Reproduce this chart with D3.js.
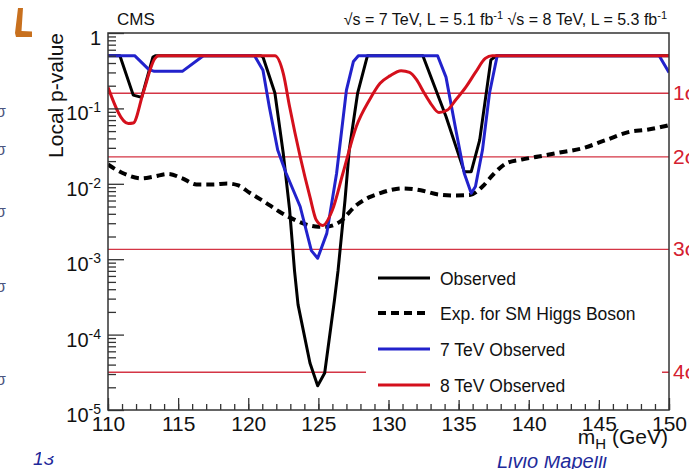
<!DOCTYPE html>
<html>
<head>
<meta charset="utf-8">
<script src="https://cdn.jsdelivr.net/npm/d3@7"></script>
<style>
  body { margin: 0; background: #fff; }
  svg { display: block; font-family: "Liberation Sans", Arial, Helvetica, sans-serif; }
</style>
</head>
<body>
<svg id="chart" width="689" height="469"></svg>
<script>
// Combined observed local p-value vs Higgs mass
const massObs = [110, 110.85, 111.8, 112.4, 113.2, 113.4, 120.9, 121.05, 121.9, 122.5, 122.95, 123.3, 123.55, 124.4, 124.95, 125.45, 126.15, 126.4, 126.9, 127.2, 127.8, 128.5, 132.45, 134.1, 135.4, 135.9, 136.5, 137.3, 137.7, 150];
const pObs    = [0.5, 0.5, 0.15, 0.14, 0.48, 0.5, 0.5, 0.48, 0.16, 0.025, 0.0045, 7e-4, 2.5e-4, 4.2e-5, 2.1e-5, 3.1e-5, 2.9e-4, 7e-4, 0.0061, 0.028, 0.16, 0.5, 0.5, 0.078, 0.0145, 0.0145, 0.038, 0.44, 0.5, 0.5];

// Expected for a SM Higgs boson
const massExp = [110, 111, 112.4, 113.3, 114.3, 115.3, 116.3, 117.5, 118.5, 119.3, 120.1, 121.2, 122.2, 123.2, 124.1, 125.0, 125.5, 126.5, 127.7, 128.6, 129.4, 130.2, 131.0, 132.3, 133.6, 134.8, 135.8, 136.7, 137.5, 138.4, 139.5, 140.7, 142.2, 143.8, 145.5, 147.2, 148.4, 149.5, 150];
const pExp    = [0.018, 0.014, 0.0118, 0.0125, 0.0135, 0.0118, 0.0098, 0.0098, 0.0101, 0.0095, 0.0076, 0.0057, 0.0043, 0.0034, 0.0029, 0.0027, 0.0027, 0.0031, 0.0052, 0.0066, 0.0075, 0.0083, 0.0087, 0.0082, 0.0072, 0.0070, 0.0071, 0.0092, 0.0135, 0.0187, 0.021, 0.023, 0.026, 0.0295, 0.038, 0.049, 0.052, 0.057, 0.06];

// 7 TeV observed
const mass7 = [110, 111.9, 112.9, 113.3, 115.3, 116.8, 120.45, 121.05, 121.5, 122.1, 122.7, 123.7, 124.5, 124.95, 125.6, 126.3, 127.0, 127.5, 127.85, 133.5, 134.1, 134.8, 135.4, 135.9, 136.2, 136.7, 137.2, 137.75, 149.3, 150];
const p7    = [0.5, 0.5, 0.33, 0.31, 0.31, 0.5, 0.5, 0.32, 0.105, 0.028, 0.0138, 0.005, 0.0013, 0.00103, 0.0022, 0.0138, 0.175, 0.42, 0.5, 0.5, 0.26, 0.052, 0.0138, 0.0075, 0.0092, 0.028, 0.159, 0.5, 0.5, 0.30];

// 8 TeV observed
const mass8 = [110, 111.45, 111.8, 112.5, 113.35, 113.6, 121.9, 122.5, 122.95, 123.7, 124.4, 124.85, 125.3, 126.0, 126.75, 127.7, 128.65, 129.4, 130.1, 130.9, 131.5, 132.0, 132.5, 133.0, 133.6, 134.2, 134.8, 135.5, 136.2, 136.9, 137.4, 150];
const p8    = [0.19, 0.063, 0.064, 0.159, 0.46, 0.5, 0.5, 0.29, 0.105, 0.023, 0.0067, 0.0033, 0.0028, 0.0045, 0.0138, 0.057, 0.13, 0.215, 0.27, 0.316, 0.30, 0.24, 0.165, 0.117, 0.088, 0.095, 0.13, 0.19, 0.30, 0.46, 0.5, 0.5];

// Axis ticks and reference lines
const xMajorTicks = [110, 115, 120, 125, 130, 135, 140, 145, 150];
const xMinorTicks = d3.range(110, 151, 1);
const yDecades = [1e-5, 1e-4, 1e-3, 1e-2, 1e-1, 1];
const yDecadeLabels = [["10", "-5"], ["10", "-4"], ["10", "-3"], ["10", "-2"], ["10", "-1"], ["1", ""]];
const sigmaP = [0.1587, 0.02275, 0.00135, 3.167e-5];
const sigmaLabels = ["1σ", "2σ", "3σ", "4σ"];
const legendLabels = ["Observed", "Exp. for SM Higgs Boson", "7 TeV Observed", "8 TeV Observed"];
const legendStyles = [
  { color: "#000", dash: null },
  { color: "#000", dash: "8,5" },
  { color: "#2222cc", dash: null },
  { color: "#d4101c", dash: null }
];
const energyText = ["√s = 7 TeV, L = 5.1 fb", "-1", " √s = 8 TeV, L = 5.3 fb", "-1"];
const marginLeft = ["σ", "σ", "σ", "σ", "σ"];
const marginLeftY = [112, 150, 212, 287, 380];

const svg = d3.select("#chart");
const W = 689, H = 469;
const plot = { left: 108, right: 669, top: 33, bottom: 410 };

const x = d3.scaleLinear().domain([110, 150]).range([plot.left, plot.right]);
const y = d3.scaleLog().domain([1e-5, 1]).range([plot.bottom, plot.top]);

// ---- slide elements around the figure ----
svg.append("path")
  .attr("d", "M18,8 L23,8 L21.5,31 L32,31.5 L32,37 L16,37 L15,33 Z")
  .attr("fill", "#c8701e");
svg.selectAll("text.side").data(marginLeft).join("text")
  .attr("class", "side")
  .attr("x", -4).attr("y", (d, i) => marginLeftY[i] + 5)
  .attr("font-size", 16).attr("fill", "#4b5580").text(d => d);
svg.append("text").attr("x", 33).attr("y", 465)
  .attr("font-size", 19).attr("font-style", "italic").attr("fill", "#1e2a9a").text("13");
svg.append("text").attr("x", 497).attr("y", 468)
  .attr("font-size", 20).attr("font-style", "italic").attr("fill", "#1e2a9a").text("Livio Mapelli");
// white figure canvas on top of the slide
svg.append("rect").attr("x", 41).attr("y", 0).attr("width", W - 41).attr("height", 456).attr("fill", "#fff");

// ---- plot ----
svg.append("defs").append("clipPath").attr("id", "plotclip")
  .append("rect").attr("x", plot.left).attr("y", plot.top)
  .attr("width", plot.right - plot.left).attr("height", plot.bottom - plot.top);

const g = svg.append("g").attr("clip-path", "url(#plotclip)");

// significance reference lines
g.selectAll("line.sig").data(sigmaP).join("line")
  .attr("class", "sig")
  .attr("x1", plot.left).attr("x2", plot.right)
  .attr("y1", d => y(d)).attr("y2", d => y(d))
  .attr("stroke", "#d43545").attr("stroke-width", 1.4);

const line = d3.line().x(d => x(d[0])).y(d => y(d[1]));
const zip = (a, b) => a.map((v, i) => [v, b[i]]);

g.append("path").datum(zip(massExp, pExp))
  .attr("d", line.curve(d3.curveMonotoneX)).attr("fill", "none")
  .attr("stroke", "#000").attr("stroke-width", 4).attr("stroke-dasharray", "8,5");
line.curve(d3.curveLinear);
g.append("path").datum(zip(massObs, pObs))
  .attr("d", line).attr("fill", "none")
  .attr("stroke", "#000").attr("stroke-width", 3).attr("stroke-linejoin", "round");
g.append("path").datum(zip(mass7, p7))
  .attr("d", line).attr("fill", "none")
  .attr("stroke", legendStyles[2].color).attr("stroke-width", 3).attr("stroke-linejoin", "round");
g.append("path").datum(zip(mass8, p8))
  .attr("d", line.curve(d3.curveMonotoneX)).attr("fill", "none")
  .attr("stroke", legendStyles[3].color).attr("stroke-width", 3).attr("stroke-linejoin", "round");

// frame
svg.append("rect")
  .attr("x", plot.left).attr("y", plot.top)
  .attr("width", plot.right - plot.left).attr("height", plot.bottom - plot.top)
  .attr("fill", "none").attr("stroke", "#333").attr("stroke-width", 1.5);

// x axis ticks (inward)
const xAxis = svg.append("g").attr("transform", `translate(0,${plot.bottom})`)
  .call(d3.axisBottom(x).tickValues(xMinorTicks).tickSize(-6).tickFormat(""));
xAxis.select(".domain").remove();
const xAxisMaj = svg.append("g").attr("transform", `translate(0,${plot.bottom})`)
  .call(d3.axisBottom(x).tickValues(xMajorTicks).tickSize(-12).tickPadding(6).tickFormat(d3.format("d")));
xAxisMaj.select(".domain").remove();
svg.selectAll(".tick line").attr("stroke", "#333").attr("stroke-width", 1.3);
xAxisMaj.selectAll("text").attr("font-size", 21).attr("fill", "#111")
  .attr("font-family", "Liberation Sans, Arial, sans-serif");

// y axis ticks (inward, log)
const yMinor = [];
for (let e = -5; e < 0; e++) for (let k = 2; k <= 9; k++) yMinor.push(k * Math.pow(10, e));
const yAxis = svg.append("g").attr("transform", `translate(${plot.left},0)`)
  .call(d3.axisLeft(y).tickValues(yMinor).tickSize(-8).tickFormat(""));
yAxis.select(".domain").remove();
const yAxisMaj = svg.append("g").attr("transform", `translate(${plot.left},0)`)
  .call(d3.axisLeft(y).tickValues(yDecades).tickSize(-16).tickFormat(""));
yAxisMaj.select(".domain").remove();
svg.selectAll(".tick line").attr("stroke", "#333").attr("stroke-width", 1.3);

const yl = svg.selectAll("text.ylab").data(yDecades).join("text")
  .attr("class", "ylab")
  .attr("x", 101).attr("y", d => y(d) + 12)
  .attr("text-anchor", "end").attr("font-size", 20).attr("fill", "#111");
yl.append("tspan").text((d, i) => yDecadeLabels[i][0]);
yl.append("tspan").attr("dy", -8).attr("font-size", 14).text((d, i) => yDecadeLabels[i][1]);

// axis titles
svg.append("text")
  .attr("transform", `translate(63,${plot.top}) rotate(-90)`)
  .attr("text-anchor", "end").attr("font-size", 21).attr("fill", "#111")
  .text("Local p-value");
const xt = svg.append("text").attr("x", 668).attr("y", 444)
  .attr("text-anchor", "end").attr("font-size", 21).attr("fill", "#111");
xt.append("tspan").text("m");
xt.append("tspan").attr("dy", 5).attr("font-size", 15).text("H");
xt.append("tspan").attr("dy", -5).text(" (GeV)");

svg.append("text").attr("x", 117).attr("y", 25).attr("font-size", 17).attr("fill", "#111").text("CMS");
const et = svg.append("text").attr("x", 667).attr("y", 25)
  .attr("text-anchor", "end").attr("font-size", 16).attr("fill", "#111");
energyText.forEach((t, i) => {
  const sup = i % 2 === 1;
  et.append("tspan").attr("dy", sup ? -6 : (i > 0 ? 6 : 0))
    .attr("font-size", sup ? 11 : 16).text(t);
});

// sigma labels at the right edge
svg.selectAll("text.sigl").data(sigmaP).join("text")
  .attr("class", "sigl")
  .attr("x", 673).attr("y", d => y(d) + 7)
  .attr("font-size", 21).attr("fill", "#d42030")
  .text((d, i) => sigmaLabels[i]);

// legend
svg.append("rect").attr("x", 366).attr("y", 258).attr("width", 296).attr("height", 142).attr("fill", "#fff");
const legendY = [278, 313, 349, 385];
const lg = svg.selectAll("g.leg").data(legendLabels).join("g").attr("class", "leg")
  .attr("transform", (d, i) => `translate(0,${legendY[i]})`);
lg.append("line").attr("x1", 378).attr("x2", 430).attr("y1", 0).attr("y2", 0)
  .attr("stroke", (d, i) => legendStyles[i].color)
  .attr("stroke-width", (d, i) => legendStyles[i].dash ? 4 : 3)
  .attr("stroke-dasharray", (d, i) => legendStyles[i].dash);
lg.append("text").attr("x", 440).attr("y", 6.5).attr("font-size", 17.5).attr("fill", "#111").text(d => d);
</script>
</body>
</html>
